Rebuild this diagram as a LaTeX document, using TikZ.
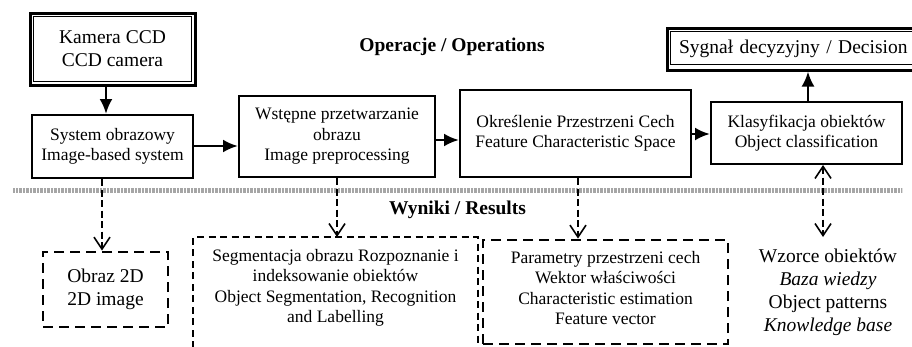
\documentclass[tikz,border=0pt]{standalone}
\usepackage{fontspec}
\setmainfont{Liberation Serif}
\usetikzlibrary{arrows.meta}
\tikzset{
  mainfont/.style={font=\fontsize{17.5}{20.5}\selectfont},
  bigfont/.style={font=\fontsize{19.5}{23}\selectfont},
  procbox/.style={draw, line width=2pt, align=center, inner sep=0pt, mainfont},
  outerbox/.style={draw, line width=3pt, align=center, inner sep=0pt, bigfont},
  innerline/.style={line width=1.9pt},
  solidarrow/.style={line width=2.6pt, -{Latex[length=15pt,width=13pt]}},
  dasharrow/.style={line width=1.6pt, dash pattern=on 7pt off 3.5pt, -{Straight Barb[length=12pt,width=16pt]}},
  dashboth/.style={line width=1.6pt, dash pattern=on 7pt off 3.5pt, {Straight Barb[length=12pt,width=16pt]}-{Straight Barb[length=12pt,width=16pt]}},
  thickdash/.style={draw, line width=2.9pt, dash pattern=on 10pt off 6pt, align=center, inner sep=0pt},
  thindash/.style={line width=1.6pt, dash pattern=on 7pt off 4.5pt},
  header/.style={font=\fontsize{19.5}{23}\selectfont\bfseries},
  separator/.style={line width=5pt, draw=black!35, dash pattern=on 0.8pt off 0.6pt}
}
\begin{document}
\begin{tikzpicture}[x=1pt,y=-1pt]
\useasboundingbox (0,0) rectangle (912,346);

% operations
\node[outerbox, minimum width=165pt, minimum height=72pt] (cam) at (112.5,49) {Kamera CCD\\CCD camera};
\draw[innerline] ([shift={(5pt,-5pt)}]cam.north west) rectangle ([shift={(-5pt,5pt)}]cam.south east);

\node[procbox, minimum width=161pt, minimum height=63pt] (sys) at (112.5,146.5) {System obrazowy\\Image-based system};
\node[procbox, minimum width=196pt, minimum height=81pt] (pre) at (337,136.5) {Wstępne przetwarzanie\\obrazu\\Image preprocessing};
\node[procbox, minimum width=231pt, minimum height=87pt] (feat) at (575.5,133.5) {Określenie Przestrzeni Cech\\Feature Characteristic Space};
\node[procbox, minimum width=191pt, minimum height=62pt] (cls) at (806.5,133) {Klasyfikacja obiektów\\Object classification};

\node[outerbox, minimum width=250pt, minimum height=42pt, text width=240pt, align=left] (dec) at (792,49) {\hspace*{7pt}Sygnał decyzyjny / Decision};
\draw[innerline] ([shift={(5pt,-5pt)}]dec.north west) rectangle ([shift={(-5pt,7pt)}]dec.south east);

\node[header] (ops) at (452,47) {Operacje / Operations};
\node[header] (res) at (457.5,210) {Wyniki / Results};

% separator
\coordinate (sepL) at (13,190);
\coordinate (sepR) at (902,190);
\draw[separator] (sepL) -- (sepR);

% solid arrows
\draw[solidarrow] (cam.south -| 106,0) -- (sys.north -| 106,0);
\draw[solidarrow] (sys.east |- 0,146) -- (pre.west |- 0,146);
\draw[solidarrow] (pre.east |- 0,140) -- (feat.west |- 0,140);
\draw[solidarrow] (feat.east |- 0,134) -- (cls.west |- 0,134);
\draw[solidarrow] (cls.north -| 808,0) -- (dec.south -| 808,0);

% results
\node[thickdash, bigfont, minimum width=125pt, minimum height=75pt] (img) at (105.5,289.5) {Obraz 2D\\2D image};

\coordinate (segBL) at (193,348);
\coordinate (segTL) at (193,237);
\coordinate (segTR) at (478,237);
\coordinate (segBR) at (478,348);
\draw[thindash] (segBL) -- (segTL) -- (segTR) -- (segBR);
\node[mainfont, align=center] (seg) at (335.5,288) {Segmentacja obrazu Rozpoznanie i\\indeksowanie obiektów\\Object Segmentation, Recognition\\and Labelling};

\node[thickdash, minimum width=245pt, minimum height=104pt] (par) at (605.5,292) {};
\node[mainfont, align=center] (partext) at (605.5,288) {Parametry przestrzeni cech\\Wektor właściwości\\Characteristic estimation\\Feature vector};

\node[bigfont, align=center] (kb) at (828,292) {Wzorce obiektów\\\textit{Baza wiedzy}\\Object patterns\\\textit{Knowledge base}};

% dashed arrows
\coordinate (segtop) at (337,237);
\draw[dasharrow] (sys.south -| 102,0) -- (img.north -| 102,0);
\draw[dasharrow] (pre.south -| 337,0) -- (segtop);
\draw[dasharrow] (feat.south -| 578,0) -- (par.north -| 578,0);
\coordinate (kbtop) at (823,237);
\draw[dashboth] (cls.south -| 823,0) -- (kbtop);
\end{tikzpicture}
\end{document}
